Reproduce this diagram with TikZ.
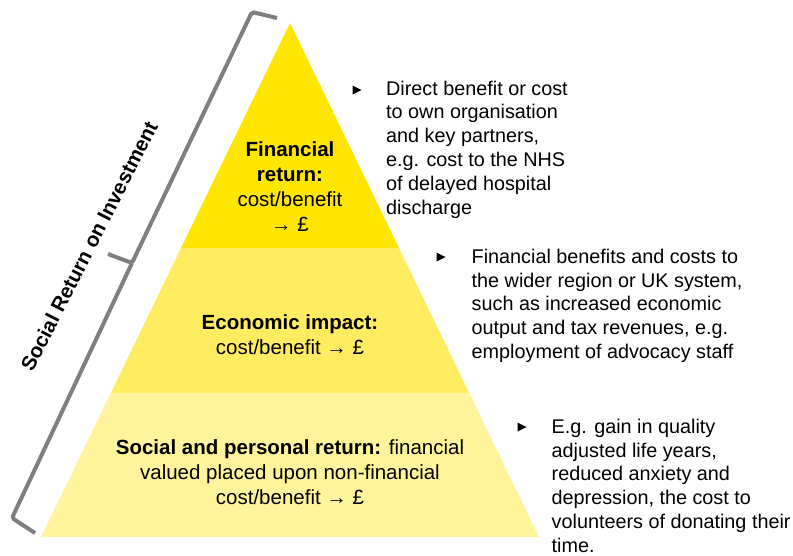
\documentclass[tikz,border=0pt]{standalone}
\usepackage{fontspec}
\setmainfont{Liberation Sans}
\usetikzlibrary{calc}

\definecolor{tierTop}{RGB}{255,230,0}
\definecolor{tierMid}{RGB}{255,236,96}
\definecolor{tierLow}{RGB}{255,244,155}
\definecolor{braceGray}{RGB}{127,127,130}

\begin{document}
\begin{tikzpicture}[x=1pt,y=-1pt]
	\tikzstyle{tier}    = [align=center, inner sep=0pt, font=\fontsize{20.5}{25}\selectfont]
	\tikzstyle{note}    = [align=left, anchor=north west, inner sep=0pt, font=\fontsize{19.8}{23.8}\selectfont]
	\tikzstyle{bracket} = [draw=braceGray, line width=4pt, rounded corners=2pt]

	\useasboundingbox (0,0) rectangle (793,555);

	% pyramid
	\coordinate (apex) at (290,23);
	\foreach \name/\x/\y in {aL/181/248, aR/399/248, bL/110.8/393, bR/469.2/393, cL/41/537, cR/539/537}
		\coordinate (\name) at (\x,\y);

	\fill[tierTop] (apex) -- (aR) -- (aL) -- cycle;
	\fill[tierMid] (aL) -- (aR) -- (bR) -- (bL) -- cycle;
	\fill[tierLow] (bL) -- (bR) -- (cR) -- (cL) -- cycle;

	\node[tier] (fin) at (290,187) {\textbf{Financial}\\\textbf{return:}\\cost/benefit\\→ £};
	\node[tier] (eco) at (290,335) {\textbf{Economic impact:}\\cost/benefit → £};
	\node[tier] (soc) at (290,472) {\textbf{Social and personal return:} financial\\valued placed upon non-financial\\cost/benefit → £};

	% notes on the right
	\foreach \x/\y in {357/90, 441/257, 522/427}
		\fill (\x-4.5,\y-4.5) -- (\x+4.5,\y) -- (\x-4.5,\y+4.5) -- cycle;

	\node[note] (finNote) at (386,80.5) {Direct benefit or cost\\to own organisation\\and key partners,\\e.g. cost to the NHS\\of delayed hospital\\discharge};
	\node[note] (ecoNote) at (471.5,248.8) {Financial benefits and costs to\\the wider region or UK system,\\such as increased economic\\output and tax revenues, e.g.\\employment of advocacy staff};
	\node[note] (socNote) at (551.5,418.8) {E.g. gain in quality\\adjusted life years,\\reduced anxiety and\\depression, the cost to\\volunteers of donating their\\time.};

	% bracket
	\foreach \name/\x/\y in {brA/277/18, brB/252/12, brC/132/263, brD/108/254, brE/12/518, brF/35/533}
		\coordinate (\name) at (\x,\y);
	\draw[bracket] (brA) -- (brB) -- (brC) -- (brD);
	\draw[bracket] (brC) -- (brE) -- (brF);

	\node[rotate=63, font=\fontsize{20.5}{24}\selectfont\bfseries] (sroi) at (89,246) {Social Return on Investment};
\end{tikzpicture}
\end{document}
